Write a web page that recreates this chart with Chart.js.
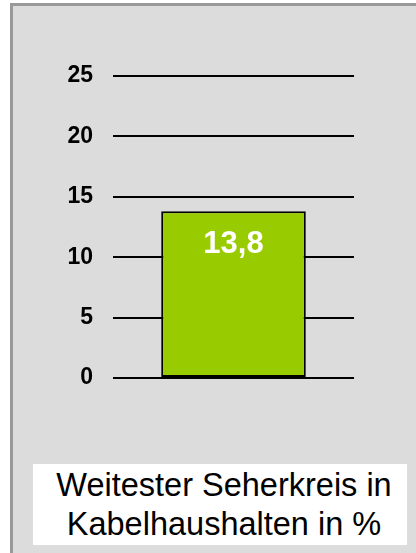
<!DOCTYPE html>
<html>
<head>
<meta charset="utf-8">
<script src="https://cdn.jsdelivr.net/npm/chart.js@4.4.0/dist/chart.umd.min.js"></script>
<style>
  html, body { margin: 0; padding: 0; background: #ffffff; width: 416px; height: 553px; overflow: hidden; }
  #frame { position: absolute; left: 10px; top: 3px; width: 406px; height: 550px; box-sizing: border-box;
           background: #dcdcdc; border-top: 3px solid #999999; border-left: 3px solid #999999; }
  #wrap { position: absolute; left: 0; top: 0; width: 416px; height: 553px; }
  #caption { position: absolute; left: 33px; top: 464px; width: 374px; height: 81px; background: #ffffff;
             font-family: 'Liberation Sans', Arial, sans-serif; font-size: 32.5px; line-height: 39px;
             color: #000; text-align: center; box-sizing: border-box; padding-top: 2px; padding-left: 8px; white-space: nowrap; }
</style>
</head>
<body>
<div id="frame"></div>
<div id="wrap"><canvas id="c" width="416" height="553"></canvas></div>
<div id="caption">Weitester Seherkreis in<br>Kabelhaushalten in %</div>
<script>
const categories = ['Weitester Seherkreis in Kabelhaushalten in %'];
const values = [13.8];
const yMin = 0;
const yMax = 25;
const yStep = 5;

const valueLabel = {
  id: 'valueLabel',
  afterDatasetsDraw(chart) {
    const ctx = chart.ctx;
    const meta = chart.getDatasetMeta(0);
    ctx.save();
    ctx.fillStyle = '#ffffff';
    ctx.font = "bold 31px 'Liberation Sans', Arial, sans-serif";
    ctx.textAlign = 'center';
    ctx.textBaseline = 'middle';
    meta.data.forEach((bar, i) => {
      const txt = String(values[i]).replace('.', ',');
      ctx.fillText(txt, bar.x, bar.y + 33);
    });
    ctx.restore();
  }
};

new Chart(document.getElementById('c'), {
  type: 'bar',
  data: {
    labels: categories,
    datasets: [{
      data: values,
      backgroundColor: '#99cc00',
      borderColor: '#000000',
      borderWidth: 2,
      borderSkipped: false,
      categoryPercentage: 1,
      barPercentage: 0.6
    }]
  },
  options: {
    responsive: false,
    animation: false,
    devicePixelRatio: 1,
    layout: { padding: { left: 0, right: 62, top: 76, bottom: 175 } },
    plugins: { legend: { display: false }, tooltip: { enabled: false } },
    scales: {
      x: { display: false },
      y: {
        min: yMin, max: yMax,
        afterFit(scale) { scale.width = 113; },
        border: { display: false },
        grid: { color: '#000000', lineWidth: 2, drawTicks: false },
        ticks: {
          stepSize: yStep,
          padding: 20,
          color: '#000000',
          font: { family: "'Liberation Sans', Arial, sans-serif", size: 23, weight: 'bold' }
        }
      }
    }
  },
  plugins: [valueLabel]
});
</script>
</body>
</html>
